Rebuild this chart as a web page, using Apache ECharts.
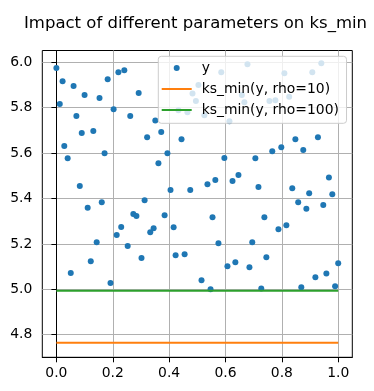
<!DOCTYPE html>
<html>
<head>
<meta charset="utf-8">
<script src="https://cdn.jsdelivr.net/npm/echarts@6/dist/echarts.min.js"></script>
<style>
html,body{margin:0;padding:0;background:#fff;}
#chart{width:374px;height:391px;}
</style>
</head>
<body>
<div id="chart"></div>
<script>
const titleText = "Impact of different parameters on ks_min";
const seriesNames = ["y", "ks_min(y, rho=10)", "ks_min(y, rho=100)"];
const xValues = [
  0.000,0.012,0.022,0.028,0.040,0.051,0.061,0.071,0.083,0.090,
  0.100,0.111,0.122,0.131,0.143,0.153,0.161,0.171,0.182,0.192,
  0.203,0.214,0.220,0.230,0.241,0.253,0.262,0.273,0.284,0.292,
  0.302,0.313,0.322,0.333,0.345,0.351,0.362,0.372,0.384,0.394,
  0.405,0.416,0.423,0.433,0.444,0.455,0.465,0.475,0.483,0.495,
  0.504,0.515,0.525,0.536,0.547,0.554,0.564,0.575,0.585,0.596,
  0.607,0.614,0.625,0.635,0.646,0.658,0.667,0.678,0.685,0.695,
  0.706,0.717,0.727,0.738,0.745,0.756,0.766,0.777,0.788,0.798,
  0.809,0.816,0.826,0.837,0.848,0.858,0.869,0.876,0.887,0.897,
  0.908,0.919,0.928,0.940,0.947,0.958,0.967,0.979,0.989,1.000
];
const yValues = [
  5.975,5.816,5.916,5.631,5.577,5.072,5.896,5.763,5.455,5.689,
  5.856,5.359,5.123,5.697,5.207,5.843,5.383,5.599,5.925,5.028,
  5.793,5.239,5.956,5.274,5.965,5.191,5.763,5.332,5.323,5.865,
  5.138,5.392,5.670,5.251,5.269,5.744,5.555,5.693,5.326,5.599,
  5.437,5.273,5.150,5.789,5.661,5.154,5.780,5.437,5.863,5.830,
  5.900,5.040,5.767,5.463,5.000,5.317,5.481,5.203,5.956,5.578,
  5.101,5.740,5.477,5.119,5.504,5.856,5.824,5.991,5.097,5.207,
  5.577,5.451,5.004,5.317,5.141,5.830,5.608,5.833,5.264,5.626,
  5.952,5.282,5.848,5.445,5.661,5.383,5.009,5.614,5.355,5.423,
  5.956,5.053,5.670,5.996,5.371,5.070,5.493,5.419,5.013,5.115
];
const lineX = [0, 1];
const rho10Values = [4.765, 4.765];
const rho100Values = [4.994, 4.994];
const xTicks = [0.0, 0.2, 0.4, 0.6, 0.8, 1.0];
const yTicks = [4.8, 5.0, 5.2, 5.4, 5.6, 5.8, 6.0];

const FONT = "DejaVu Sans";
const chart = echarts.init(document.getElementById('chart'), null, {renderer: 'canvas'});

const scatterData = xValues.map((x, i) => [x, yValues[i]]);
const rho10Data = lineX.map((x, i) => [x, rho10Values[i]]);
const rho100Data = lineX.map((x, i) => [x, rho100Values[i]]);

const linePath = 'path://M0,0 L30,0 L30,2 L0,2 Z';

chart.setOption({
  animation: false,
  backgroundColor: '#ffffff',
  title: {
    text: titleText,
    left: 19,
    top: 10,
    textStyle: {fontFamily: FONT, fontSize: 16.5, fontWeight: 'normal', color: '#000'}
  },
  grid: {
    left: 42.3, right: 21.7, top: 50.5, bottom: 33.7,
    show: true, borderColor: '#000', borderWidth: 1, backgroundColor: 'transparent',
    containLabel: false
  },
  xAxis: {
    type: 'value', min: -0.05, max: 1.05,
    axisLine: {show: true, lineStyle: {color: '#000', width: 1}},
    axisTick: {show: true, length: 5, customValues: xTicks, lineStyle: {color: '#000', width: 1}},
    axisLabel: {show: true, customValues: xTicks, margin: 9, fontFamily: FONT, fontSize: 13.9, color: '#000',
      formatter: v => Number(v).toFixed(1)},
    splitLine: {show: true, lineStyle: {color: '#b0b0b0', width: 1}}
  },
  yAxis: {
    type: 'value', min: 4.7004, max: 6.052,
    axisLine: {show: true, lineStyle: {color: '#000', width: 1}},
    axisTick: {show: true, length: 5, customValues: yTicks, lineStyle: {color: '#000', width: 1}},
    axisLabel: {show: true, customValues: yTicks, margin: 10, fontFamily: FONT, fontSize: 13.9, color: '#000',
      formatter: v => Number(v).toFixed(1)},
    splitLine: {show: true, lineStyle: {color: '#b0b0b0', width: 1}}
  },
  legend: {
    orient: 'vertical',
    left: 158.3, top: 56.3,
    padding: [3.7, 7.6, 5.3, 3.4],
    backgroundColor: 'rgba(255,255,255,0.8)',
    borderColor: '#cccccc', borderWidth: 1, borderRadius: 3,
    itemGap: 5,
    itemWidth: 30, itemHeight: 6,
    z: 10,
    selectedMode: false,
    textStyle: {fontFamily: FONT, fontSize: 13.9, color: '#000', lineHeight: 16, padding: [0, 0, 0, 5]},
    data: [
      {name: seriesNames[0], icon: 'circle'},
      {name: seriesNames[1], icon: linePath},
      {name: seriesNames[2], icon: linePath}
    ]
  },
  series: [
    {
      name: seriesNames[0], type: 'scatter', data: scatterData,
      symbol: 'circle', symbolSize: 6, z: 2,
      itemStyle: {color: '#1f77b4', opacity: 1}
    },
    {
      name: seriesNames[1], type: 'line', data: rho10Data,
      symbol: 'none', clip: false, z: 3,
      lineStyle: {color: '#ff7f0e', width: 2}, itemStyle: {color: '#ff7f0e'}
    },
    {
      name: seriesNames[2], type: 'line', data: rho100Data,
      symbol: 'none', clip: false, z: 3,
      lineStyle: {color: '#2ca02c', width: 2}, itemStyle: {color: '#2ca02c'}
    }
  ]
});
</script>
</body>
</html>
